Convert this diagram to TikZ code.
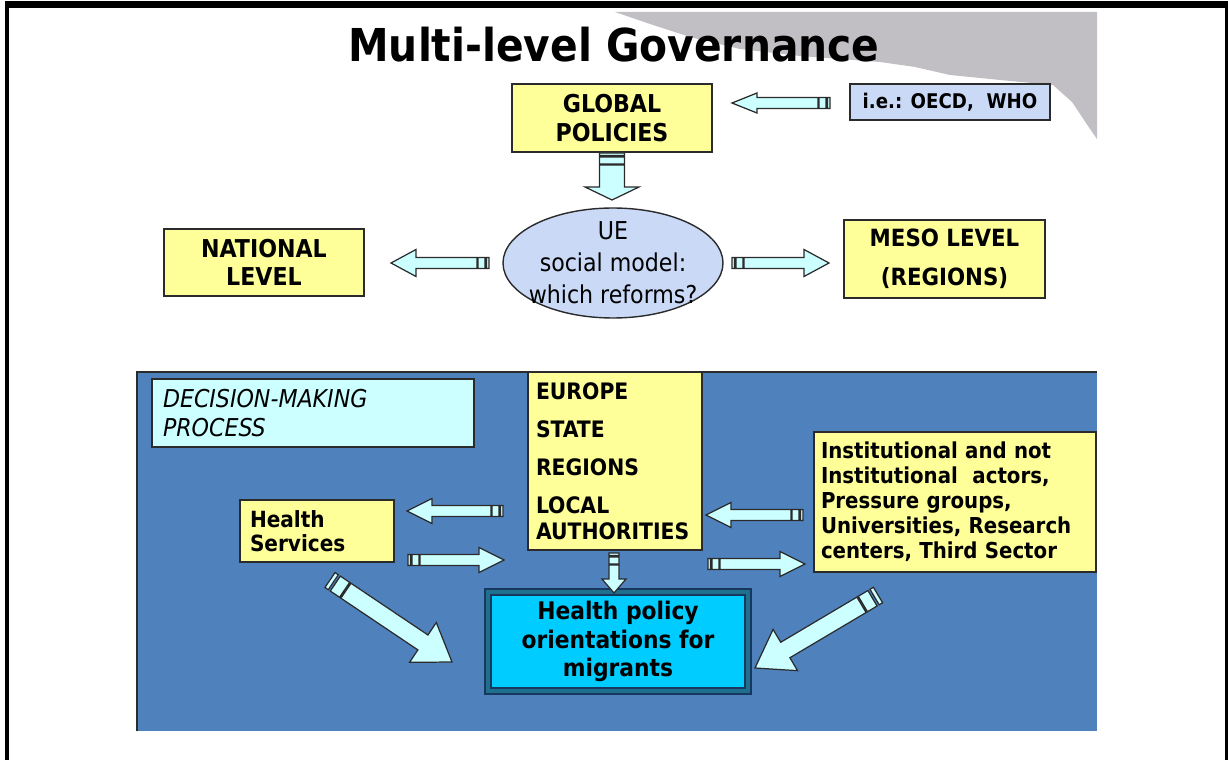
\documentclass[tikz,border=0pt]{standalone}
\usepackage{fontspec}
\setmainfont{DejaVu Sans Condensed}
\usetikzlibrary{calc,shapes.geometric}
\newcommand{\pix}{0.02cm}

\definecolor{note}{HTML}{FFFF99}
\definecolor{edge}{HTML}{2B2B2B}
\definecolor{lilac}{HTML}{C9D9F6}
\definecolor{ice}{HTML}{CCFFFF}
\definecolor{panel}{HTML}{4F81BD}
\definecolor{sky}{HTML}{00CCFF}
\definecolor{cloud}{HTML}{C1BFC4}
\definecolor{deep}{HTML}{17375E}
\definecolor{teal}{HTML}{1F6F8F}

% block arrow: {body half width}{head half width}{head length}{tail stripe}, all in pixels
\tikzset{
  fat arrow/.style n args={4}{fill=ice, draw=edge, line width=0.7pt,
    to path={let \p1=(\tikztostart), \p2=(\tikztotarget),
      \n1={atan2(\y2-\y1,\x2-\x1)}, \n2={veclen(\x2-\x1,\y2-\y1)} in
      ($(\p1)+({\n1+90}:{#1*\pix})$) -- ($(\p1)+(\n1:{#4*\pix})+({\n1+90}:{#1*\pix})$)
        -- ($(\p1)+(\n1:{#4*\pix})+({\n1-90}:{#1*\pix})$) -- ($(\p1)+({\n1-90}:{#1*\pix})$) -- cycle
      ($(\p1)+(\n1:{1.6*#4*\pix})+({\n1+90}:{#1*\pix})$) -- ($(\p1)+(\n1:{4.4*#4*\pix})+({\n1+90}:{#1*\pix})$)
        -- ($(\p1)+(\n1:{4.4*#4*\pix})+({\n1-90}:{#1*\pix})$) -- ($(\p1)+(\n1:{1.6*#4*\pix})+({\n1-90}:{#1*\pix})$) -- cycle
      ($(\p1)+(\n1:{4.8*#4*\pix})+({\n1+90}:{#1*\pix})$) -- ($(\p1)+(\n1:{\n2-#3*\pix})+({\n1+90}:{#1*\pix})$)
        -- ($(\p1)+(\n1:{\n2-#3*\pix})+({\n1+90}:{#2*\pix})$) -- (\p2)
        -- ($(\p1)+(\n1:{\n2-#3*\pix})+({\n1-90}:{#2*\pix})$) -- ($(\p1)+(\n1:{\n2-#3*\pix})+({\n1-90}:{#1*\pix})$)
        -- ($(\p1)+(\n1:{4.8*#4*\pix})+({\n1-90}:{#1*\pix})$) -- cycle}},
}

\begin{document}
\begin{tikzpicture}[x=\pix, y=-\pix,
    ybox/.style={draw=edge, fill=note, line width=1pt, inner sep=0pt, align=center,
      font=\bfseries\fontsize{14}{16}\selectfont},
    lbox/.style={ybox, align=left, font=\bfseries\fontsize{12.5}{14.2}\selectfont}]
    \useasboundingbox (0,0) rectangle (1228,760);

    % frame and grey corner
    \fill[black] (5,1) rectangle (1228,8);
    \fill[black] (5,1) rectangle (9,760);
    \fill[black] (1224.5,1) rectangle (1228,760);
    \fill[cloud] (615,12) -- (1097,12) -- (1097,139) -- (1088,126) -- (1072,102) -- (1053,85)
      -- (1000,80) -- (950,75) -- (915,67) -- (880,62) -- (800,56) -- (740,49) -- (690,37) -- (650,24) -- cycle;

    \node[font=\bfseries\fontsize{25.8}{30}\selectfont] (title) at (614,45) {Multi-level Governance};

    % Upper part
    \node[ybox, minimum width=200*\pix, minimum height=68*\pix] (global) at (612,118) {GLOBAL\\POLICIES};
    \node[ybox, fill=lilac, minimum width=200*\pix, minimum height=36*\pix,
      font=\bfseries\fontsize{11.5}{14}\selectfont] (who) at (950,102) {i.e.: OECD,\ \ WHO};
    \node[ellipse, draw=edge, fill=lilac, line width=0.8pt, inner xsep=-12*\pix, inner ysep=-10*\pix,
      minimum width=220*\pix, minimum height=110*\pix, align=center, font=\fontsize{14}{18.2}\selectfont]
      (ue) at (613,263) {UE\\social model:\\which reforms?};
    \node[ybox, minimum width=200*\pix, minimum height=67*\pix] (national) at (264,262.5) {NATIONAL\\LEVEL};
    \node[ybox, minimum width=201*\pix, minimum height=78*\pix,
      font=\bfseries\fontsize{13.5}{22}\selectfont] (meso) at (944.5,259) {MESO LEVEL\\(REGIONS)};

    \coordinate (whoTail) at (830,103);   \coordinate (whoTip) at (732,103);
    \coordinate (globalTail) at (612,153); \coordinate (globalTip) at (612,200);
    \coordinate (natTail) at (489,263);   \coordinate (natTip) at (391,263);
    \coordinate (mesoTail) at (732,263);  \coordinate (mesoTip) at (829,263);
    \draw[fat arrow={5.5}{10}{25}{2.5}] (whoTail) to (whoTip);
    \draw[fat arrow={12.5}{27}{13}{2.5}] (globalTail) to (globalTip);
    \draw[fat arrow={5.5}{13.5}{25}{2.5}] (natTail) to (natTip);
    \draw[fat arrow={5.5}{13.5}{25}{2.5}] (mesoTail) to (mesoTip);

    % Lower part
    \fill[panel] (137,372) rectangle (1097,731);
    \draw[edge, line width=1pt] (137,731) -- (137,372) -- (1097,372);

    \node[draw=edge, fill=ice, line width=1.5pt, inner sep=0pt, minimum width=322*\pix, minimum height=68*\pix,
      text width=300*\pix, align=left, font=\itshape\fontsize{14}{16.5}\selectfont] (decision) at (313,413)
      {DECISION-MAKING\\PROCESS};
    \node[lbox, minimum width=174*\pix, minimum height=178*\pix, text width=158*\pix,
      font=\bfseries\fontsize{12.9}{14.8}\selectfont] (levels) at (615,461)
      {EUROPE\\[6.8pt]STATE\\[6.8pt]REGIONS\\[6.8pt]LOCAL\\AUTHORITIES};
    \node[lbox, minimum width=154*\pix, minimum height=62*\pix, text width=134*\pix,
      font=\bfseries\fontsize{12.7}{13.7}\selectfont] (health) at (317,531) {Health\\Services};
    \node[lbox, minimum width=282*\pix, minimum height=140*\pix, text width=268*\pix] (actors) at (955,502)
      {Institutional and not\\Institutional\ \ actors,\\Pressure groups,\\Universities, Research\\centers, Third Sector};
    \node[draw=deep, line width=1.2pt, double=teal, double distance=2pt, fill=sky, inner sep=0pt,
      minimum width=260*\pix, minimum height=99*\pix, align=center,
      font=\bfseries\fontsize{13.8}{16}\selectfont] (policy) at (618,641.5) {Health policy\\orientations for\\migrants};

    \coordinate (hsTail) at (503,511);    \coordinate (hsTip) at (407,511);
    \coordinate (lvTail) at (408,560);    \coordinate (lvTip) at (504,560);
    \coordinate (acTail) at (803,515);    \coordinate (acTip) at (706,515);
    \coordinate (lv2Tail) at (708,564);   \coordinate (lv2Tip) at (805,564);
    \coordinate (downTail) at (614,553);  \coordinate (downTip) at (614,593);
    \coordinate (hs2Tail) at (330,580);   \coordinate (hs2Tip) at (452,662);
    \coordinate (ac2Tail) at (878,595);   \coordinate (ac2Tip) at (755,668);
    \draw[fat arrow={5.5}{12.5}{25}{2.5}] (hsTail) to (hsTip);
    \draw[fat arrow={5.5}{12.5}{25}{2.5}] (lvTail) to (lvTip);
    \draw[fat arrow={5.5}{12.5}{25}{2.5}] (acTail) to (acTip);
    \draw[fat arrow={5.5}{12.5}{25}{2.5}] (lv2Tail) to (lv2Tip);
    \draw[fat arrow={5}{12}{14}{2.5}] (downTail) to (downTip);
    \draw[fat arrow={9}{24}{35}{4}] (hs2Tail) to (hs2Tip);
    \draw[fat arrow={9}{24}{35}{4}] (ac2Tail) to (ac2Tip);

\end{tikzpicture}
\end{document}
